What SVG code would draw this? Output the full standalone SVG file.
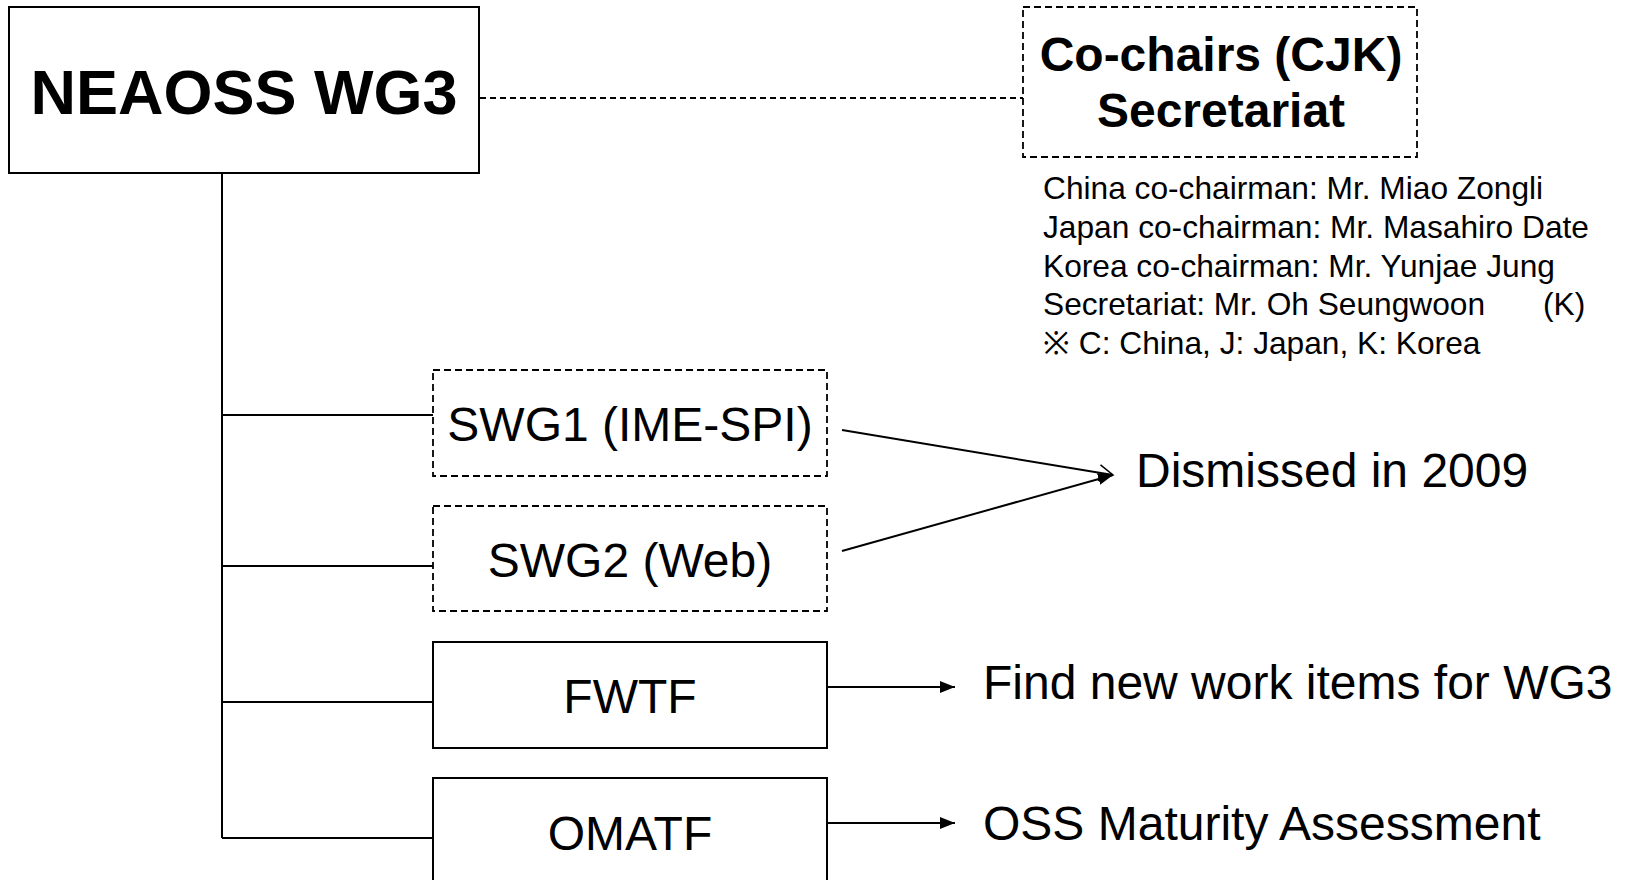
<svg xmlns="http://www.w3.org/2000/svg" width="1627" height="880" viewBox="0 0 1627 880">
<style>
text{font-family:"Liberation Sans",Arial,sans-serif;fill:#000}
.box{fill:#fff;stroke:#000;stroke-width:2}
.dbox{fill:#fff;stroke:#000;stroke-width:1.8;stroke-dasharray:7 4}
.ln{fill:none;stroke:#000;stroke-width:2}
.dln{fill:none;stroke:#000;stroke-width:1.8;stroke-dasharray:6 4}
.lab{font-size:48px;text-anchor:middle}
.note{font-size:48px}
.list{font-size:31.7px}
</style>
<defs>
<marker id="fill" markerUnits="userSpaceOnUse" markerWidth="16" markerHeight="14" refX="15" refY="7" orient="auto">
<path d="M0,1 L15,7 L0,13 Z" fill="#000"/>
</marker>
<marker id="open" markerUnits="userSpaceOnUse" markerWidth="18" markerHeight="18" refX="16" refY="9" orient="auto">
<path d="M2,1 L16,9 L2,17" fill="none" stroke="#000" stroke-width="1.5"/>
</marker>
</defs>
<g id="connectors">
<line class="dln" x1="480" y1="98" x2="1023" y2="98"/>
<path class="ln" d="M222,173 V838 M222,415 H433 M222,566 H433 M222,702 H433 M222,838 H433"/>
<line class="ln" x1="842" y1="430" x2="1113" y2="475" marker-end="url(#open)"/>
<line class="ln" x1="842" y1="551" x2="1113" y2="475" marker-end="url(#fill)"/>
<line class="ln" x1="827" y1="687" x2="955" y2="687" marker-end="url(#fill)"/>
<line class="ln" x1="827" y1="823" x2="955" y2="823" marker-end="url(#fill)"/>
</g>
<g id="wg3">
<rect class="box" x="9" y="7" width="470" height="166"/>
<text x="244" y="114" font-size="63" font-weight="bold" text-anchor="middle">NEAOSS WG3</text>
</g>
<g id="cochairs">
<rect class="dbox" x="1023" y="7" width="394" height="150"/>
<text x="1221" y="71" font-size="48" font-weight="bold" text-anchor="middle">Co-chairs (CJK)</text>
<text x="1221" y="127" font-size="48" font-weight="bold" text-anchor="middle">Secretariat</text>
</g>
<g id="members">
<text class="list" x="1043" y="199">China co-chairman: Mr. Miao Zongli</text>
<text class="list" x="1043" y="238">Japan co-chairman: Mr. Masahiro Date</text>
<text class="list" x="1043" y="277">Korea co-chairman: Mr. Yunjae Jung</text>
<text class="list" x="1043" y="315">Secretariat: Mr. Oh Seungwoon</text>
<text class="list" x="1543" y="315">(K)</text>
<text class="list" x="1043" y="354" font-family="'Liberation Sans','Noto Sans CJK JP',sans-serif">※ C: China, J: Japan, K: Korea</text>
</g>
<g id="swg1">
<rect class="dbox" x="433" y="370" width="394" height="106"/>
<text class="lab" x="630" y="441">SWG1 (IME-SPI)</text>
</g>
<g id="swg2">
<rect class="dbox" x="433" y="506" width="394" height="105"/>
<text class="lab" x="630" y="577">SWG2 (Web)</text>
</g>
<g id="fwtf">
<rect class="box" x="433" y="642" width="394" height="106"/>
<text class="lab" x="630" y="713">FWTF</text>
</g>
<g id="omatf">
<rect class="box" x="433" y="778" width="394" height="106"/>
<text class="lab" x="630" y="850">OMATF</text>
</g>
<g id="notes">
<text class="note" x="1136" y="487">Dismissed in 2009</text>
<text class="note" x="983" y="699">Find new work items for WG3</text>
<text class="note" x="983" y="840">OSS Maturity Assessment</text>
</g>
</svg>
